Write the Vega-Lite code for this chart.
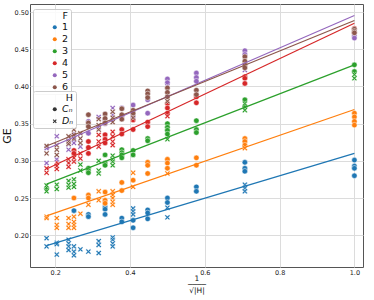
{
"$schema":"https://vega.github.io/schema/vega-lite/v6.json",
"width":333,"height":263,"autosize":"none",
"padding":{"left":30,"top":4,"right":11,"bottom":33},
"background":"white",
"config":{
"view":{"stroke":"#555","strokeWidth":1},
"axis":{"gridColor":"#dcdcdc","gridWidth":1,"domain":false,"ticks":false,"labelFontSize":6.5,"labelColor":"#222","labelFont":"DejaVu Sans","titleFont":"DejaVu Sans","titleFontWeight":"normal","titleColor":"#111","labelPadding":1.5},
"legend":{"labelFont":"DejaVu Sans","titleFont":"DejaVu Sans","titleFontWeight":"normal","labelFontSize":9.5,"titleFontSize":9.5,"rowPadding":1,"titlePadding":2,"fillColor":"rgba(255,255,255,0.85)","strokeColor":"#cccccc","padding":2,"cornerRadius":2,"symbolOffset":15,"labelOffset":2.5,"titleAnchor":"end","titleColor":"#111","labelColor":"#111"}
},
"datasets":{
"pts":[
{"F":1,"H":"D_N","x":0.1768,"GE":0.196},{"F":1,"H":"D_N","x":0.1768,"GE":0.185},
{"F":1,"H":"D_N","x":0.2041,"GE":0.190},{"F":1,"H":"D_N","x":0.2041,"GE":0.188},{"F":1,"H":"D_N","x":0.2041,"GE":0.174},
{"F":1,"H":"D_N","x":0.2357,"GE":0.194},{"F":1,"H":"D_N","x":0.2357,"GE":0.189},{"F":1,"H":"D_N","x":0.2357,"GE":0.185},{"F":1,"H":"D_N","x":0.2357,"GE":0.180},
{"F":1,"H":"D_N","x":0.25,"GE":0.185},{"F":1,"H":"D_N","x":0.25,"GE":0.178},{"F":1,"H":"D_N","x":0.25,"GE":0.173},{"F":1,"H":"C_N","x":0.25,"GE":0.233},
{"F":1,"H":"D_N","x":0.2673,"GE":0.181},
{"F":1,"H":"C_N","x":0.2887,"GE":0.228},{"F":1,"H":"C_N","x":0.2887,"GE":0.225},{"F":1,"H":"D_N","x":0.2887,"GE":0.178},
{"F":1,"H":"D_N","x":0.3162,"GE":0.192},{"F":1,"H":"D_N","x":0.3162,"GE":0.187},{"F":1,"H":"D_N","x":0.3162,"GE":0.176},
{"F":1,"H":"C_N","x":0.3333,"GE":0.238},{"F":1,"H":"C_N","x":0.3333,"GE":0.235},{"F":1,"H":"C_N","x":0.3333,"GE":0.228},
{"F":1,"H":"D_N","x":0.3536,"GE":0.197},{"F":1,"H":"D_N","x":0.3536,"GE":0.194},{"F":1,"H":"D_N","x":0.3536,"GE":0.189},{"F":1,"H":"D_N","x":0.3536,"GE":0.185},
{"F":1,"H":"C_N","x":0.378,"GE":0.223},{"F":1,"H":"C_N","x":0.378,"GE":0.218},
{"F":1,"H":"D_N","x":0.4082,"GE":0.236},{"F":1,"H":"D_N","x":0.4082,"GE":0.232},{"F":1,"H":"D_N","x":0.4082,"GE":0.228},{"F":1,"H":"C_N","x":0.4082,"GE":0.220},{"F":1,"H":"C_N","x":0.4082,"GE":0.210},
{"F":1,"H":"C_N","x":0.4472,"GE":0.234},{"F":1,"H":"C_N","x":0.4472,"GE":0.230},{"F":1,"H":"C_N","x":0.4472,"GE":0.222},
{"F":1,"H":"C_N","x":0.5,"GE":0.250},{"F":1,"H":"C_N","x":0.5,"GE":0.244},{"F":1,"H":"D_N","x":0.5,"GE":0.237},{"F":1,"H":"D_N","x":0.5,"GE":0.224},
{"F":1,"H":"C_N","x":0.5774,"GE":0.265},{"F":1,"H":"C_N","x":0.5774,"GE":0.259},
{"F":1,"H":"C_N","x":0.7071,"GE":0.298},{"F":1,"H":"C_N","x":0.7071,"GE":0.290},{"F":1,"H":"C_N","x":0.7071,"GE":0.286},{"F":1,"H":"D_N","x":0.7071,"GE":0.268},{"F":1,"H":"D_N","x":0.7071,"GE":0.263},{"F":1,"H":"D_N","x":0.7071,"GE":0.259},
{"F":1,"H":"C_N","x":1.0,"GE":0.301},{"F":1,"H":"C_N","x":1.0,"GE":0.293},{"F":1,"H":"C_N","x":1.0,"GE":0.290},{"F":1,"H":"C_N","x":1.0,"GE":0.280},

{"F":2,"H":"D_N","x":0.1768,"GE":0.225},{"F":2,"H":"D_N","x":0.1768,"GE":0.223},
{"F":2,"H":"D_N","x":0.2041,"GE":0.223},{"F":2,"H":"D_N","x":0.2041,"GE":0.214},{"F":2,"H":"D_N","x":0.2041,"GE":0.210},
{"F":2,"H":"D_N","x":0.2357,"GE":0.223},{"F":2,"H":"D_N","x":0.2357,"GE":0.215},{"F":2,"H":"D_N","x":0.2357,"GE":0.210},
{"F":2,"H":"D_N","x":0.25,"GE":0.225},{"F":2,"H":"D_N","x":0.25,"GE":0.218},{"F":2,"H":"D_N","x":0.25,"GE":0.214},{"F":2,"H":"D_N","x":0.25,"GE":0.210},{"F":2,"H":"C_N","x":0.25,"GE":0.250},
{"F":2,"H":"D_N","x":0.2673,"GE":0.229},
{"F":2,"H":"C_N","x":0.2887,"GE":0.254},{"F":2,"H":"C_N","x":0.2887,"GE":0.250},{"F":2,"H":"D_N","x":0.2887,"GE":0.241},
{"F":2,"H":"D_N","x":0.3162,"GE":0.259},{"F":2,"H":"D_N","x":0.3162,"GE":0.247},
{"F":2,"H":"C_N","x":0.3333,"GE":0.258},{"F":2,"H":"C_N","x":0.3333,"GE":0.247},{"F":2,"H":"C_N","x":0.3333,"GE":0.243},
{"F":2,"H":"D_N","x":0.3536,"GE":0.259},{"F":2,"H":"D_N","x":0.3536,"GE":0.254},{"F":2,"H":"D_N","x":0.3536,"GE":0.250},{"F":2,"H":"D_N","x":0.3536,"GE":0.245},{"F":2,"H":"D_N","x":0.3536,"GE":0.241},
{"F":2,"H":"C_N","x":0.378,"GE":0.271},{"F":2,"H":"C_N","x":0.378,"GE":0.260},
{"F":2,"H":"D_N","x":0.4082,"GE":0.284},{"F":2,"H":"D_N","x":0.4082,"GE":0.265},{"F":2,"H":"C_N","x":0.4082,"GE":0.274},
{"F":2,"H":"C_N","x":0.4472,"GE":0.298},{"F":2,"H":"C_N","x":0.4472,"GE":0.294},{"F":2,"H":"C_N","x":0.4472,"GE":0.283},
{"F":2,"H":"C_N","x":0.5,"GE":0.302},{"F":2,"H":"C_N","x":0.5,"GE":0.297},{"F":2,"H":"C_N","x":0.5,"GE":0.290},{"F":2,"H":"D_N","x":0.5,"GE":0.283},
{"F":2,"H":"C_N","x":0.5774,"GE":0.304},{"F":2,"H":"C_N","x":0.5774,"GE":0.294},
{"F":2,"H":"C_N","x":0.7071,"GE":0.330},{"F":2,"H":"C_N","x":0.7071,"GE":0.326},{"F":2,"H":"C_N","x":0.7071,"GE":0.321},{"F":2,"H":"D_N","x":0.7071,"GE":0.317},
{"F":2,"H":"C_N","x":1.0,"GE":0.364},{"F":2,"H":"C_N","x":1.0,"GE":0.359},{"F":2,"H":"C_N","x":1.0,"GE":0.353},{"F":2,"H":"C_N","x":1.0,"GE":0.348},

{"F":3,"H":"C_N","x":0.1768,"GE":0.263},{"F":3,"H":"D_N","x":0.1768,"GE":0.259},{"F":3,"H":"D_N","x":0.1768,"GE":0.267},
{"F":3,"H":"D_N","x":0.2041,"GE":0.268},{"F":3,"H":"D_N","x":0.2041,"GE":0.262},
{"F":3,"H":"D_N","x":0.2357,"GE":0.273},{"F":3,"H":"D_N","x":0.2357,"GE":0.268},{"F":3,"H":"D_N","x":0.2357,"GE":0.264},
{"F":3,"H":"D_N","x":0.25,"GE":0.275},{"F":3,"H":"D_N","x":0.25,"GE":0.269},{"F":3,"H":"D_N","x":0.25,"GE":0.265},
{"F":3,"H":"D_N","x":0.2673,"GE":0.295},{"F":3,"H":"D_N","x":0.2673,"GE":0.287},
{"F":3,"H":"C_N","x":0.2887,"GE":0.290},{"F":3,"H":"C_N","x":0.2887,"GE":0.287},{"F":3,"H":"C_N","x":0.2887,"GE":0.284},
{"F":3,"H":"D_N","x":0.3162,"GE":0.300},{"F":3,"H":"D_N","x":0.3162,"GE":0.287},{"F":3,"H":"D_N","x":0.3162,"GE":0.283},
{"F":3,"H":"C_N","x":0.3333,"GE":0.308},{"F":3,"H":"C_N","x":0.3333,"GE":0.297},{"F":3,"H":"C_N","x":0.3333,"GE":0.294},
{"F":3,"H":"D_N","x":0.3536,"GE":0.307},{"F":3,"H":"D_N","x":0.3536,"GE":0.302},{"F":3,"H":"D_N","x":0.3536,"GE":0.299},{"F":3,"H":"D_N","x":0.3536,"GE":0.294},
{"F":3,"H":"C_N","x":0.378,"GE":0.315},{"F":3,"H":"C_N","x":0.378,"GE":0.311},{"F":3,"H":"C_N","x":0.378,"GE":0.308},{"F":3,"H":"C_N","x":0.378,"GE":0.304},
{"F":3,"H":"C_N","x":0.4082,"GE":0.314},{"F":3,"H":"C_N","x":0.4082,"GE":0.308},
{"F":3,"H":"C_N","x":0.4472,"GE":0.330},{"F":3,"H":"C_N","x":0.4472,"GE":0.327},
{"F":3,"H":"C_N","x":0.5,"GE":0.350},{"F":3,"H":"C_N","x":0.5,"GE":0.345},{"F":3,"H":"C_N","x":0.5,"GE":0.341},{"F":3,"H":"C_N","x":0.5,"GE":0.336},{"F":3,"H":"D_N","x":0.5,"GE":0.329},
{"F":3,"H":"C_N","x":0.5774,"GE":0.354},{"F":3,"H":"C_N","x":0.5774,"GE":0.342},{"F":3,"H":"C_N","x":0.5774,"GE":0.338},
{"F":3,"H":"C_N","x":0.7071,"GE":0.382},{"F":3,"H":"C_N","x":0.7071,"GE":0.373},{"F":3,"H":"D_N","x":0.7071,"GE":0.377},{"F":3,"H":"D_N","x":0.7071,"GE":0.368},
{"F":3,"H":"C_N","x":1.0,"GE":0.429},{"F":3,"H":"C_N","x":1.0,"GE":0.420},{"F":3,"H":"D_N","x":1.0,"GE":0.416},{"F":3,"H":"D_N","x":1.0,"GE":0.411},

{"F":4,"H":"D_N","x":0.1768,"GE":0.290},{"F":4,"H":"D_N","x":0.1768,"GE":0.284},
{"F":4,"H":"D_N","x":0.2041,"GE":0.298},{"F":4,"H":"D_N","x":0.2041,"GE":0.293},{"F":4,"H":"D_N","x":0.2041,"GE":0.289},
{"F":4,"H":"D_N","x":0.2357,"GE":0.302},{"F":4,"H":"D_N","x":0.2357,"GE":0.297},{"F":4,"H":"D_N","x":0.2357,"GE":0.292},
{"F":4,"H":"C_N","x":0.25,"GE":0.314},{"F":4,"H":"C_N","x":0.25,"GE":0.310},{"F":4,"H":"D_N","x":0.25,"GE":0.304},{"F":4,"H":"D_N","x":0.25,"GE":0.299},
{"F":4,"H":"D_N","x":0.2673,"GE":0.310},{"F":4,"H":"D_N","x":0.2673,"GE":0.303},
{"F":4,"H":"C_N","x":0.2887,"GE":0.326},{"F":4,"H":"C_N","x":0.2887,"GE":0.318},{"F":4,"H":"C_N","x":0.2887,"GE":0.310},
{"F":4,"H":"D_N","x":0.3162,"GE":0.335},{"F":4,"H":"D_N","x":0.3162,"GE":0.326},{"F":4,"H":"D_N","x":0.3162,"GE":0.319},
{"F":4,"H":"C_N","x":0.3333,"GE":0.335},{"F":4,"H":"C_N","x":0.3333,"GE":0.329},{"F":4,"H":"C_N","x":0.3333,"GE":0.324},
{"F":4,"H":"D_N","x":0.3536,"GE":0.339},{"F":4,"H":"D_N","x":0.3536,"GE":0.333},{"F":4,"H":"D_N","x":0.3536,"GE":0.326},{"F":4,"H":"D_N","x":0.3536,"GE":0.321},
{"F":4,"H":"C_N","x":0.378,"GE":0.342},{"F":4,"H":"C_N","x":0.378,"GE":0.336},
{"F":4,"H":"C_N","x":0.4082,"GE":0.355},{"F":4,"H":"C_N","x":0.4082,"GE":0.342},
{"F":4,"H":"C_N","x":0.4472,"GE":0.352},{"F":4,"H":"C_N","x":0.4472,"GE":0.346},
{"F":4,"H":"C_N","x":0.5,"GE":0.377},{"F":4,"H":"C_N","x":0.5,"GE":0.371},{"F":4,"H":"C_N","x":0.5,"GE":0.364},{"F":4,"H":"D_N","x":0.5,"GE":0.360},
{"F":4,"H":"C_N","x":0.5774,"GE":0.389},{"F":4,"H":"C_N","x":0.5774,"GE":0.386},{"F":4,"H":"C_N","x":0.5774,"GE":0.378},
{"F":4,"H":"C_N","x":0.7071,"GE":0.413},{"F":4,"H":"C_N","x":0.7071,"GE":0.411},{"F":4,"H":"C_N","x":0.7071,"GE":0.404},
{"F":4,"H":"C_N","x":1.0,"GE":0.478},{"F":4,"H":"C_N","x":1.0,"GE":0.472},

{"F":5,"H":"D_N","x":0.1768,"GE":0.317},{"F":5,"H":"D_N","x":0.1768,"GE":0.297},
{"F":5,"H":"D_N","x":0.2041,"GE":0.333},{"F":5,"H":"D_N","x":0.2041,"GE":0.302},
{"F":5,"H":"D_N","x":0.2357,"GE":0.328},{"F":5,"H":"D_N","x":0.2357,"GE":0.322},{"F":5,"H":"D_N","x":0.2357,"GE":0.315},
{"F":5,"H":"D_N","x":0.25,"GE":0.328},{"F":5,"H":"D_N","x":0.25,"GE":0.324},{"F":5,"H":"C_N","x":0.25,"GE":0.335},
{"F":5,"H":"D_N","x":0.2673,"GE":0.330},{"F":5,"H":"D_N","x":0.2673,"GE":0.319},
{"F":5,"H":"C_N","x":0.2887,"GE":0.353},{"F":5,"H":"C_N","x":0.2887,"GE":0.337},
{"F":5,"H":"D_N","x":0.3162,"GE":0.359},{"F":5,"H":"D_N","x":0.3162,"GE":0.345},
{"F":5,"H":"C_N","x":0.3333,"GE":0.355},{"F":5,"H":"C_N","x":0.3333,"GE":0.350},
{"F":5,"H":"D_N","x":0.3536,"GE":0.371},{"F":5,"H":"D_N","x":0.3536,"GE":0.362},
{"F":5,"H":"C_N","x":0.378,"GE":0.371},{"F":5,"H":"C_N","x":0.378,"GE":0.360},
{"F":5,"H":"C_N","x":0.4082,"GE":0.375},{"F":5,"H":"C_N","x":0.4082,"GE":0.360},
{"F":5,"H":"C_N","x":0.4472,"GE":0.382},{"F":5,"H":"C_N","x":0.4472,"GE":0.364},
{"F":5,"H":"C_N","x":0.5,"GE":0.410},{"F":5,"H":"C_N","x":0.5,"GE":0.405},{"F":5,"H":"D_N","x":0.5,"GE":0.400},
{"F":5,"H":"C_N","x":0.5774,"GE":0.418},{"F":5,"H":"C_N","x":0.5774,"GE":0.412},{"F":5,"H":"C_N","x":0.5774,"GE":0.407},
{"F":5,"H":"C_N","x":0.7071,"GE":0.448},{"F":5,"H":"C_N","x":0.7071,"GE":0.443},{"F":5,"H":"D_N","x":0.7071,"GE":0.422},
{"F":5,"H":"C_N","x":1.0,"GE":0.468},{"F":5,"H":"C_N","x":1.0,"GE":0.465},

{"F":6,"H":"D_N","x":0.1768,"GE":0.320},{"F":6,"H":"D_N","x":0.1768,"GE":0.310},
{"F":6,"H":"D_N","x":0.2041,"GE":0.321},{"F":6,"H":"D_N","x":0.2041,"GE":0.315},{"F":6,"H":"D_N","x":0.2041,"GE":0.308},
{"F":6,"H":"D_N","x":0.2357,"GE":0.333},{"F":6,"H":"D_N","x":0.2357,"GE":0.326},{"F":6,"H":"D_N","x":0.2357,"GE":0.323},
{"F":6,"H":"D_N","x":0.25,"GE":0.342},{"F":6,"H":"D_N","x":0.25,"GE":0.335},{"F":6,"H":"D_N","x":0.25,"GE":0.330},
{"F":6,"H":"D_N","x":0.2673,"GE":0.337},{"F":6,"H":"D_N","x":0.2673,"GE":0.330},{"F":6,"H":"D_N","x":0.2673,"GE":0.324},
{"F":6,"H":"C_N","x":0.2887,"GE":0.362},{"F":6,"H":"C_N","x":0.2887,"GE":0.351},{"F":6,"H":"C_N","x":0.2887,"GE":0.346},
{"F":6,"H":"D_N","x":0.3162,"GE":0.356},{"F":6,"H":"D_N","x":0.3162,"GE":0.348},{"F":6,"H":"D_N","x":0.3162,"GE":0.342},
{"F":6,"H":"C_N","x":0.3333,"GE":0.363},{"F":6,"H":"C_N","x":0.3333,"GE":0.357},{"F":6,"H":"C_N","x":0.3333,"GE":0.351},
{"F":6,"H":"D_N","x":0.3536,"GE":0.366},{"F":6,"H":"D_N","x":0.3536,"GE":0.358},{"F":6,"H":"D_N","x":0.3536,"GE":0.352},
{"F":6,"H":"C_N","x":0.378,"GE":0.370},{"F":6,"H":"C_N","x":0.378,"GE":0.362},{"F":6,"H":"C_N","x":0.378,"GE":0.356},
{"F":6,"H":"C_N","x":0.4082,"GE":0.368},{"F":6,"H":"C_N","x":0.4082,"GE":0.364},{"F":6,"H":"D_N","x":0.4082,"GE":0.358},
{"F":6,"H":"C_N","x":0.4472,"GE":0.394},{"F":6,"H":"C_N","x":0.4472,"GE":0.390},{"F":6,"H":"C_N","x":0.4472,"GE":0.385},
{"F":6,"H":"C_N","x":0.5,"GE":0.398},{"F":6,"H":"C_N","x":0.5,"GE":0.392},{"F":6,"H":"C_N","x":0.5,"GE":0.386},{"F":6,"H":"D_N","x":0.5,"GE":0.380},
{"F":6,"H":"C_N","x":0.5774,"GE":0.395},{"F":6,"H":"C_N","x":0.5774,"GE":0.389},
{"F":6,"H":"C_N","x":0.7071,"GE":0.440},{"F":6,"H":"C_N","x":0.7071,"GE":0.434},{"F":6,"H":"C_N","x":0.7071,"GE":0.429},{"F":6,"H":"C_N","x":0.7071,"GE":0.425},
{"F":6,"H":"C_N","x":1.0,"GE":0.477},{"F":6,"H":"C_N","x":1.0,"GE":0.474},{"F":6,"H":"C_N","x":1.0,"GE":0.472}
],
"fit":[
{"F":1,"x":0.1768,"GE":0.186},{"F":1,"x":1.0,"GE":0.310},
{"F":2,"x":0.1768,"GE":0.226},{"F":2,"x":1.0,"GE":0.369},
{"F":3,"x":0.1768,"GE":0.2687},{"F":3,"x":1.0,"GE":0.429},
{"F":4,"x":0.1768,"GE":0.289},{"F":4,"x":1.0,"GE":0.485},
{"F":5,"x":0.1768,"GE":0.316},{"F":5,"x":1.0,"GE":0.4954},
{"F":6,"x":0.1768,"GE":0.320},{"F":6,"x":1.0,"GE":0.4887}
]
},
"layer":[
{"data":{"name":"pts"},
"mark":{"type":"point","filled":true,"size":30,"stroke":"white","strokeWidth":0.5,"opacity":1},
"encoding":{
"x":{"field":"x","type":"quantitative","scale":{"domain":[0.1325,1.023],"nice":false,"zero":false},
"axis":{"values":[0.2,0.4,0.6,0.8,1.0],"format":".1f","labelPadding":2.5,"title":["1","────","√|H|"],"titleFontSize":7.5,"titleLineHeight":6,"titlePadding":-2}},
"y":{"field":"GE","type":"quantitative","scale":{"domain":[0.1573,0.5108],"nice":false,"zero":false},
"axis":{"values":[0.2,0.25,0.3,0.35,0.4,0.45,0.5],"format":".2f","title":"GE","titleFontSize":11,"titlePadding":2}},
"color":{"field":"F","type":"nominal","scale":{"domain":[1,2,3,4,5,6],"range":["#1f77b4","#ff7f0e","#2ca02c","#d62728","#9467bd","#8c564b"]},
"legend":{"title":"F\u00a0","orient":"none","legendX":3,"legendY":5,"symbolType":"circle","symbolSize":16,"symbolStrokeWidth":0,"labelExpr":"datum.label + '\u00a0'"}},
"shape":{"field":"H","type":"nominal","scale":{"domain":["C_N","D_N"],"range":["circle","M-1,-0.6L-0.6,-1L0,-0.4L0.6,-1L1,-0.6L0.4,0L1,0.6L0.6,1L0,0.4L-0.6,1L-1,0.6L-0.4,0Z"]},
"legend":{"title":"H\u00a0\u00a0\u00a0","orient":"none","legendX":3,"legendY":87,"symbolSize":16,"symbolFillColor":"#333","symbolStrokeWidth":0,"labelFontStyle":"italic","labelExpr":"datum.label == 'C_N' ? 'Cₙ' : 'Dₙ'"}}
}},
{"data":{"name":"fit"},
"mark":{"type":"line","strokeWidth":1.2},
"encoding":{
"x":{"field":"x","type":"quantitative"},
"y":{"field":"GE","type":"quantitative"},
"color":{"field":"F","type":"nominal"}
}}
]
}
